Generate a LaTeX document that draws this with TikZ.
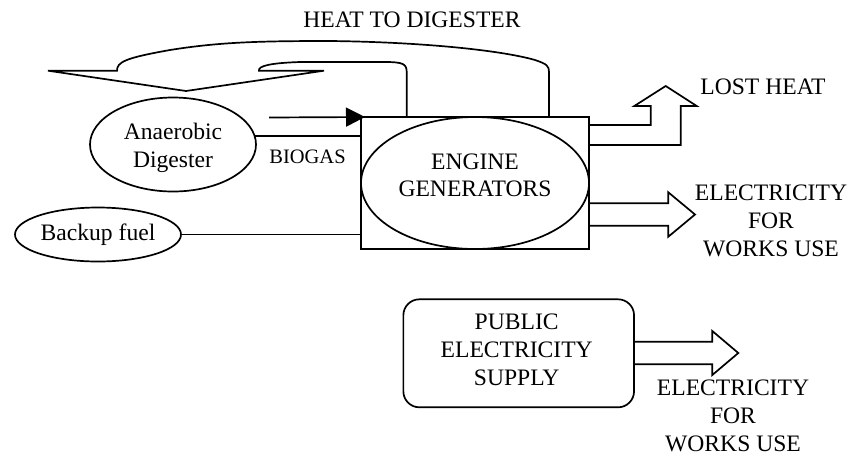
\documentclass[tikz,border=0pt]{standalone}
\usepackage{fontspec}
\setmainfont{Liberation Serif}
\usetikzlibrary{shapes.geometric,arrows.meta,calc}
\begin{document}
\begin{tikzpicture}[x=0.5pt,y=-0.5pt, line width=0.85pt,
  txt/.style={font=\fontsize{11.8pt}{13.9pt}\selectfont, inner sep=0pt, align=center},
  smalltxt/.style={font=\fontsize{10.25pt}{12pt}\selectfont, inner sep=0pt},
  oval/.style={draw, ellipse, inner sep=0pt},
  blockarrow/.style={draw, line join=miter}]
\useasboundingbox (0,0) rectangle (849,456);

% engine box
\node[draw, minimum width=114pt, minimum height=66pt, inner sep=0pt, outer sep=0pt] (box) at (475,183) {};
\node[oval, minimum width=114pt, minimum height=66pt] (eng) at (box.center) {};
\node[txt] (engt) at (475,175.2) {ENGINE\\GENERATORS};

% digester
\node[oval, minimum width=83pt, minimum height=47pt] (dig) at (173,144.5) {};
\node[txt] (digt) at (173,148) {Anaerobic\\Digester};

% backup fuel
\node[oval, txt, minimum width=83pt, minimum height=27pt] (bak) at (98,234.5) {Backup fuel};

% public supply
\node[draw, rounded corners=8pt, minimum width=115.35pt, minimum height=54pt, inner sep=0pt] (pub) at (518.7,353.3) {};
\node[txt] (pubt) at (516.7,349.7) {PUBLIC\\ELECTRICITY\\SUPPLY};

% texts
\node[txt, anchor=base] (heat) at (412,27) {HEAT TO DIGESTER};
\node[txt, anchor=base] (lost) at (763,94) {LOST HEAT};
\node[txt] (elec1) at (771,221) {ELECTRICITY\\FOR\\WORKS USE};
\node[txt] (elec2) at (733,415.7) {ELECTRICITY\\FOR\\WORKS USE};
\node[smalltxt, anchor=base] (biogas) at (307.5,163.3) {BIOGAS};

% connectors
\draw (dig.6) -- (dig.6 -| box.west);
\draw[line width=0.6pt] (bak.east) -- (bak.east -| box.west);
\coordinate (bgs) at (269,117.5);
\draw[-{Triangle[length=9.5pt,width=9.5pt]}] (bgs) -- ($(box.north west)+(4,0)$);

% heat to digester block arrow
\draw[blockarrow] (406.7,0 |- box.north) -- (406.7,72)
  .. controls (406.7,64) and (403,62) .. (385,62) -- (300,62)
  .. controls (270,63) and (258,66) .. (259,70.7)
  -- (324,70.7) -- (186,91) -- (48,70.7) -- (117,70.7)
  .. controls (117,62) and (125,58) .. (170,50)
  .. controls (220,42) and (260,41) .. (330,41)
  .. controls (420,42) and (500,50) .. (535,60)
  .. controls (547,64) and (549,66) .. (549,72)
  -- (549,0 |- box.north);

% lost heat block arrow
\draw[blockarrow] (box.east |- 0,145) -- (680.7,145) -- (680.7,106) -- (696.7,106)
  -- (665.7,86) -- (634.3,106) -- (650.7,106) -- (650.7,125) -- (box.east |- 0,125);

% electricity block arrow
\draw[blockarrow] (box.east |- 0,203.3) -- (668.3,203.3) -- (668.3,192.3) -- (695,214.5)
  -- (668.3,236.7) -- (668.3,225.7) -- (box.east |- 0,225.7);

% public supply block arrow
\draw[blockarrow] (pub.east |- 0,341.7) -- (712.3,341.7) -- (712.3,331) -- (738.3,353)
  -- (712.3,375) -- (712.3,364.3) -- (pub.east |- 0,364.3);
\end{tikzpicture}
\end{document}
